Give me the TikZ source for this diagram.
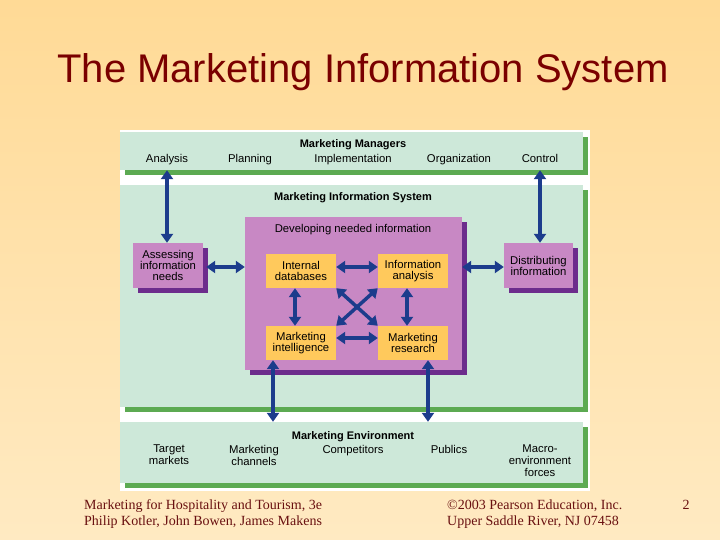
\documentclass[tikz,border=0pt]{standalone}
\usepackage{fontspec}
\setmainfont{Liberation Sans}
\newfontfamily\footfont{Liberation Serif}
\usepackage{xcolor}
\definecolor{bgtop}{RGB}{255,218,150}
\definecolor{bgbottom}{RGB}{255,234,194}
\definecolor{titlered}{RGB}{122,0,0}
\definecolor{footred}{RGB}{105,16,16}
\definecolor{panelgreen}{RGB}{205,232,217}
\definecolor{stripgreen}{RGB}{92,170,82}
\definecolor{boxpurple}{RGB}{200,136,196}
\definecolor{shadepurple}{RGB}{108,44,140}
\definecolor{boxyellow}{RGB}{255,201,92}
\definecolor{arrowblue}{RGB}{28,60,140}
\usepackage{tikz}
\usetikzlibrary{arrows.meta,shadows,positioning}

\begin{document}
\begin{tikzpicture}[x=1pt,y=-1pt,
        band/.style={fill=panelgreen,inner sep=0pt,minimum width=463pt,
            drop shadow={shadow xshift=5pt,shadow yshift=-5pt,fill=stripgreen,opacity=1}},
        pbox/.style={fill=boxpurple,inner sep=0pt,align=center,font=\fontsize{11.3}{11}\selectfont,
            drop shadow={shadow xshift=5pt,shadow yshift=-5pt,fill=shadepurple,opacity=1}},
        ybox/.style={fill=boxyellow,inner sep=0pt,align=center,font=\fontsize{11.3}{11}\selectfont,
            minimum width=70pt,minimum height=34pt},
        lbl/.style={font=\fontsize{11.3}{12}\selectfont,align=center,inner sep=0pt},
        hdr/.style={font=\fontsize{11}{12}\selectfont\bfseries,inner sep=0pt},
        foot/.style={font=\footfont\fontsize{14}{16}\selectfont,text=footred,inner sep=0pt},
        link/.style={arrowblue,line width=3.5pt,
            {Triangle[width=12pt,length=9pt]}-{Triangle[width=12pt,length=9pt]}}]
    % Slide background
    \useasboundingbox (0,0) rectangle (720,540);
    \shade[top color=bgtop,bottom color=bgbottom] (0,0) rectangle (720,540);
    % Parameters
    \def\mx{351.5}
    \def\cx{353}
    % Title
    \node[font=\fontsize{40}{48}\selectfont,text=titlered,anchor=base,inner sep=0pt]
        (title) at (363,83) {The Marketing Information System};
    % White panel
    \fill[white] (120,130) rectangle (590,491);
    % Green bands
    \node[band,minimum height=38pt] (mgrs) at (\mx,151) {};
    \node[band,minimum height=222pt] (mis) at (\mx,296) {};
    \node[band,minimum height=61pt] (env) at (\mx,452.5) {};
    % Marketing managers
    \node[hdr,anchor=base] (mgrtitle) at (\cx,148) {Marketing Managers};
    \node[lbl,anchor=base] (analysis) at (167,163) {Analysis};
    \node[lbl,anchor=base] (planning) at (250,163) {Planning};
    \node[lbl,anchor=base] (implem) at (353,163) {Implementation};
    \node[lbl,anchor=base] (organiz) at (459,163) {Organization};
    \node[lbl,anchor=base] (control) at (540,163) {Control};
    % Marketing information system
    \node[hdr,anchor=base] (mistitle) at (\cx,201) {Marketing Information System};
    \node[pbox,minimum width=70pt,minimum height=45pt] (assess) at (168,265.5)
        {Assessing\\information\\needs};
    \node[pbox,minimum width=217pt,minimum height=153pt] (dev) at (353.5,293.5) {};
    \node[lbl,anchor=base] (devlbl) at (\cx,233) {Developing needed information};
    \node[pbox,minimum width=69pt,minimum height=45pt] (dist) at (538.5,265.5)
        {Distributing\\information};
    \node[ybox] (idb) at (301,271) {Internal\\databases};
    \node[ybox] (ia) at (413,271) {Information\\analysis};
    \node[ybox] (mi) at (301,343) {Marketing\\intelligence};
    \node[ybox] (mr) at (413,343) {Marketing\\research};
    % Marketing environment
    \node[hdr,anchor=base] (envtitle) at (\cx,439) {Marketing Environment};
    \node[lbl,anchor=north] (target) at (169,445) {Target\\markets};
    \node[lbl,anchor=north] (channels) at (254,445) {Marketing\\channels};
    \node[lbl,anchor=north] (compet) at (353,445) {Competitors};
    \node[lbl,anchor=north] (publics) at (449,445) {Publics};
    \node[lbl,anchor=north] (macro) at (540,445) {Macro-\\environment\\forces};
    % Arrow rows and columns
    \coordinate (rowA) at (0,267);
    \coordinate (rowB) at (0,338);
    \coordinate (colA) at (273,0);
    \coordinate (colB) at (428,0);
    % Arrows
    \draw[link] (analysis |- mgrs.south) -- (analysis |- assess.north);
    \draw[link] (control |- mgrs.south) -- (control |- dist.north);
    \draw[link] ([xshift=3pt]assess.east |- rowA) -- (dev.west |- rowA);
    \draw[link] (idb.east |- rowA) -- (ia.west |- rowA);
    \draw[link] (dev.east |- rowA) -- (dist.west |- rowA);
    \draw[link] ([xshift=-6pt]idb.south) -- ([xshift=-6pt]mi.north);
    \draw[link] ([xshift=-6pt]ia.south) -- ([xshift=-6pt]mr.north);
    \draw[link] (idb.south east) -- (mr.north west);
    \draw[link] (ia.south west) -- (mi.north east);
    \draw[link] (mi.east |- rowB) -- (mr.west |- rowB);
    \draw[link] (colA |- mi.south) -- (colA |- env.north);
    \draw[link] (colB |- mr.south) -- (colB |- env.north);
    % Footer
    \node[foot,anchor=base west] (book) at (84,509) {Marketing for Hospitality and Tourism, 3e};
    \node[foot,anchor=base west] (authors) at (84,525) {Philip Kotler, John Bowen, James Makens};
    \node[foot,anchor=base west] (copy) at (447,509) {\textcopyright 2003 Pearson Education, Inc.};
    \node[foot,anchor=base west] (place) at (447,525) {Upper Saddle River, NJ 07458};
    \node[foot,anchor=base] (page) at (686,509) {2};
\end{tikzpicture}
\end{document}
